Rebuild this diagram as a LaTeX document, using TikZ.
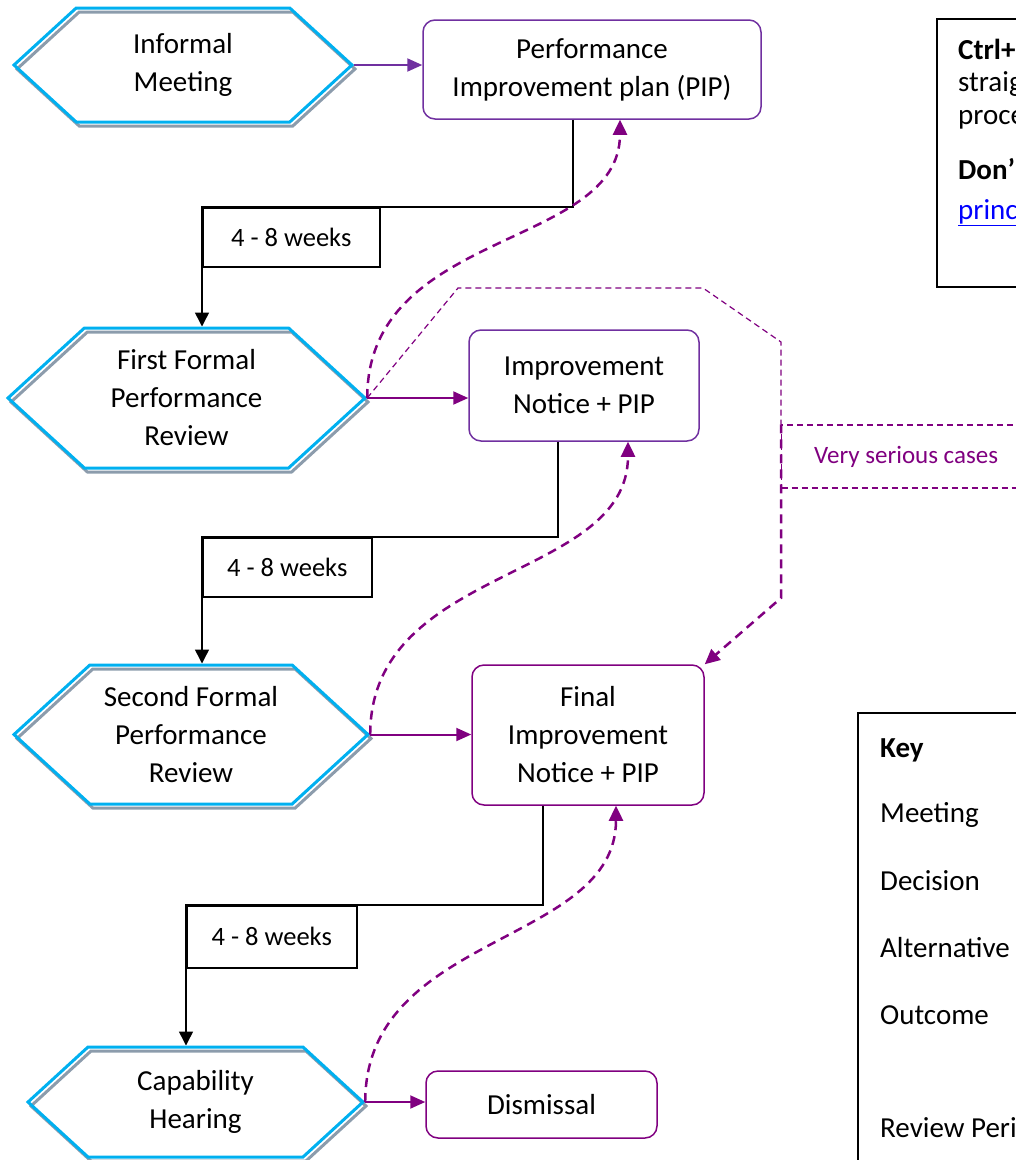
\documentclass[tikz,border=0pt]{standalone}
\usepackage{fontspec}
\setmainfont{Carlito}
\usepackage{xcolor}
\usepackage{tikz}
\usetikzlibrary{shapes.symbols, arrows.meta, calc}
\definecolor{hexblue}{HTML}{00B0F0}
\definecolor{hexgray}{HTML}{8C9CAC}
\definecolor{violetline}{HTML}{7030A0}
\definecolor{purpleline}{HTML}{800080}
\definecolor{linkblue}{HTML}{0000FF}

\begin{document}
\begin{tikzpicture}[x=1pt, y=-1pt, font=\fontsize{29}{38}\selectfont,
  hexa/.style={signal, signal to=east and west, signal pointer angle=85, draw=hexblue, line width=3pt, align=center, inner sep=0pt, preaction={draw=hexgray, line width=3pt, transform canvas={shift={(3pt,-4pt)}}}},
  box/.style={rectangle, rounded corners=12pt, draw=violetline, line width=1.5pt, align=center, inner sep=0pt},
  weeks/.style={rectangle, draw, line width=1.5pt, inner sep=0pt, anchor=north west, font=\fontsize{26.5}{32}\selectfont},
  flow/.style={line width=1.5pt, -{Triangle[length=14pt, width=14pt]}},
  link/.style={draw=purpleline, line width=2pt, -{Triangle[length=15pt, width=13pt]}},
  back/.style={draw=purpleline, line width=2.5pt, dash pattern=on 9pt off 6pt, -{Triangle[length=15pt, width=14pt]}},
  thinback/.style={draw=purpleline, line width=1.2pt, dash pattern=on 6pt off 4pt},
  note/.style={anchor=base west, inner sep=0pt}]
\useasboundingbox (0,0) rectangle (1016,1160);
\node[hexa, minimum width=338, minimum height=114] (H1) at (183,65) {Informal\\Meeting};
\node[hexa, minimum width=357, minimum height=140] (H2) at (186.5,398) {First Formal\\Performance\\Review};
\node[hexa, minimum width=354, minimum height=139] (H3) at (191,734.5) {Second Formal\\Performance\\Review};
\node[hexa, minimum width=335, minimum height=110] (H4) at (195.5,1102) {Capability\\Hearing};
\node[box, minimum width=338, minimum height=99] (B1) at (592,69.5) {Performance\\Improvement plan (PIP)};
\node[box, minimum width=230, minimum height=111] (B2) at (584,385.5) {Improvement\\Notice + PIP};
\node[box, draw=purpleline, minimum width=232, minimum height=140] (B3) at (588,735) {Final\\Improvement\\Notice + PIP};
\node[box, draw=purpleline, minimum width=231, minimum height=67] (B4) at (541.5,1104.5) {Dismissal};
\node[weeks, minimum width=177, minimum height=59] (W1) at (202,207) {4 - 8 weeks};
\node[weeks, minimum width=169, minimum height=59] (W2) at (202,537) {4 - 8 weeks};
\node[weeks, minimum width=170, minimum height=62] (W3) at (186,905) {4 - 8 weeks};
\draw[flow] ($(B1.south)+(-19,0)$) |- (W1.north west) -- (W1.north west |- H2.north);
\draw[flow] ($(B2.south)+(-26,0)$) |- (W2.north west) -- (W2.north west |- H3.north);
\draw[flow] ($(B3.south)+(-45,0)$) |- (W3.north west) -- (W3.north west |- H4.north);
\draw[link, violetline] (H1.east) -- (H1.east -| B1.west);
\draw[link] (H2.east) -- (H2.east -| B2.west);
\draw[link] (H3.east) -- (H3.east -| B3.west);
\draw[link] (H4.east) -- (H4.east -| B4.west);
\draw[back] (H2.east) .. controls +(0,-170) and +(0,130) .. ($(B1.south)+(28,0)$);
\draw[back] (H3.east) .. controls +(0,-170) and +(0,140) .. ($(B2.south)+(44,0)$);
\draw[back] (H4.east) .. controls +(0,-170) and +(0,140) .. ($(B3.south)+(28,0)$);
\node[thinback, rectangle, anchor=west, minimum width=249, minimum height=63, text=purpleline, font=\fontsize{25}{30}\selectfont] (VS) at (781,456.5) {Very serious cases};
\coordinate (S1) at (458,288);
\coordinate (S2) at (703,288);
\coordinate (S3) at (781,342);
\coordinate (S4) at (781,598);
\draw[thinback] (H2.east) -- (S1) -- (S2) -- (S3) -- (VS.north west);
\draw[back] (VS.north west) -- (S4) -- (B3.north east);
\draw[line width=1.5pt] (937,19) rectangle (1030,287);
\node[note] (N1) at (958,59) {\textbf{Ctrl+}};
\node[note] (N2) at (958,91) {straig};
\node[note] (N3) at (958,124) {proce};
\node[note] (N4) at (958,179) {\textbf{Don’}};
\node[note, text=linkblue] (N5) at (958,219) {\underline{princ}};
\draw[line width=1.5pt] (858,713) rectangle (1030,1175);
\node[note] (K0) at (880,757) {\textbf{Key}};
\node[note] (K1) at (880,822) {Meeting};
\node[note] (K2) at (880,890) {Decision};
\node[note] (K3) at (880,957) {Alternative};
\node[note] (K4) at (880,1024) {Outcome};
\node[note] (K5) at (880,1137) {Review Peri};
\end{tikzpicture}
\end{document}
